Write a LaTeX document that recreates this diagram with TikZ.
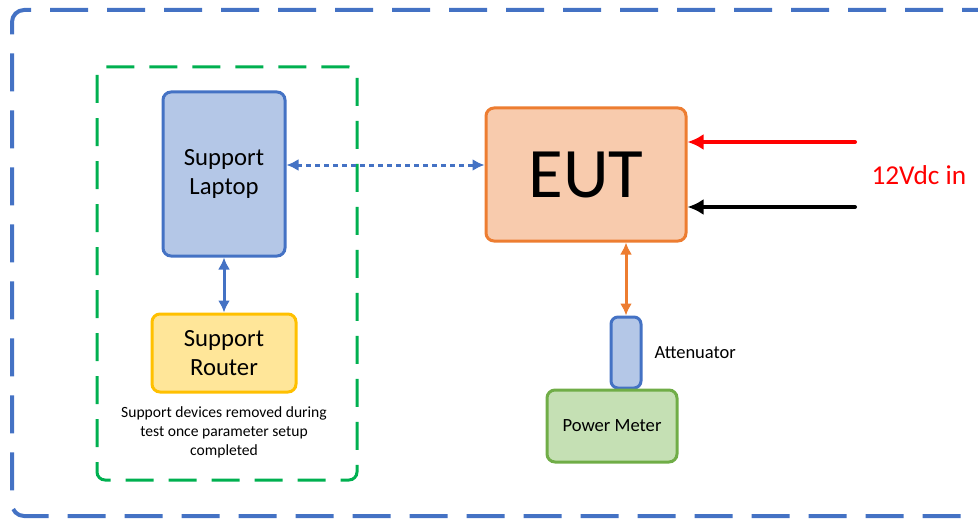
\documentclass[tikz,border=0pt]{standalone}
\usepackage{fontspec}
\setmainfont{Carlito}
\usepackage{xcolor}
\usetikzlibrary{arrows.meta}
\definecolor{lineblue}{HTML}{4472C4}
\definecolor{fillblue}{HTML}{B4C7E7}
\definecolor{lineorange}{HTML}{ED7D31}
\definecolor{fillorange}{HTML}{F8CBAD}
\definecolor{lineyellow}{HTML}{FFC000}
\definecolor{fillyellow}{HTML}{FFE699}
\definecolor{linegreen}{HTML}{70AD47}
\definecolor{fillgreen}{HTML}{C5E0B4}
\definecolor{dashgreen}{HTML}{00B050}
\definecolor{powerred}{HTML}{FF0000}

\begin{document}
\begin{tikzpicture}[x=1pt,y=-1pt,
    devbox/.style={draw, rounded corners=8pt, line width=3pt, inner sep=0pt, align=center},
    link/.style={line width=3pt, {Latex[length=12pt,width=12pt]}-{Latex[length=12pt,width=12pt]}},
    feed/.style={line width=4pt, line cap=round, -{Latex[length=16pt,width=16pt]}}]
  \clip (0,0) rectangle (978,519);
  % outer test area
  \draw[lineblue, line width=4pt, rounded corners=12pt, dash pattern=on 38pt off 19pt]
    (1000,10) -- (12,10) -- (12,516) -- (1000,516);
  % support devices area
  \draw[dashgreen, line width=3pt, rounded corners=8pt, dash pattern=on 28pt off 15pt]
    (97,67) rectangle (357,480);

  \node[devbox, draw=lineblue, fill=fillblue, minimum width=122pt, minimum height=164pt,
        font=\fontsize{24.7}{29}\selectfont] (laptop) at (224,174) {Support\\Laptop};
  \node[devbox, draw=lineyellow, fill=fillyellow, minimum width=144pt, minimum height=78pt,
        font=\fontsize{24.7}{29}\selectfont] (router) at (224,353) {Support\\Router};
  \node[align=center, font=\fontsize{15.6}{19}\selectfont] (note) at (224,432)
    {Support devices removed during\\test once parameter setup\\completed};

  \node[devbox, draw=lineorange, fill=fillorange, minimum width=200pt, minimum height=133pt,
        font=\fontsize{71}{80}\selectfont] (eut) at (586,174.5) {EUT};
  \node[devbox, draw=lineblue, fill=fillblue, rounded corners=7pt, minimum width=30pt,
        minimum height=71pt] (att) at (626,352.5) {};
  \node[anchor=west, font=\fontsize{18.5}{22}\selectfont] (attlabel) at (651,353) {Attenuator};
  \node[devbox, draw=linegreen, fill=fillgreen, minimum width=130pt, minimum height=72pt,
        font=\fontsize{18.6}{22}\selectfont] (meter) at (612,426) {Power Meter};

  \coordinate (redin) at (855,142);
  \coordinate (blackin) at (855,207);
  \node[anchor=west, text=powerred, font=\fontsize{27.3}{32}\selectfont] (vdc) at (868,175) {12Vdc in};

  \draw[link, lineblue] (laptop) -- (router);
  \draw[link, lineblue, dash pattern=on 5pt off 4pt] (laptop.east |- 0,165) -- (eut.west |- 0,165);
  \draw[link, lineorange] (eut.south -| att) -- (att.north);
  \draw[feed, powerred] (redin) -- (eut.east |- redin);
  \draw[feed, black] (blackin) -- (eut.east |- blackin);
\end{tikzpicture}
\end{document}
